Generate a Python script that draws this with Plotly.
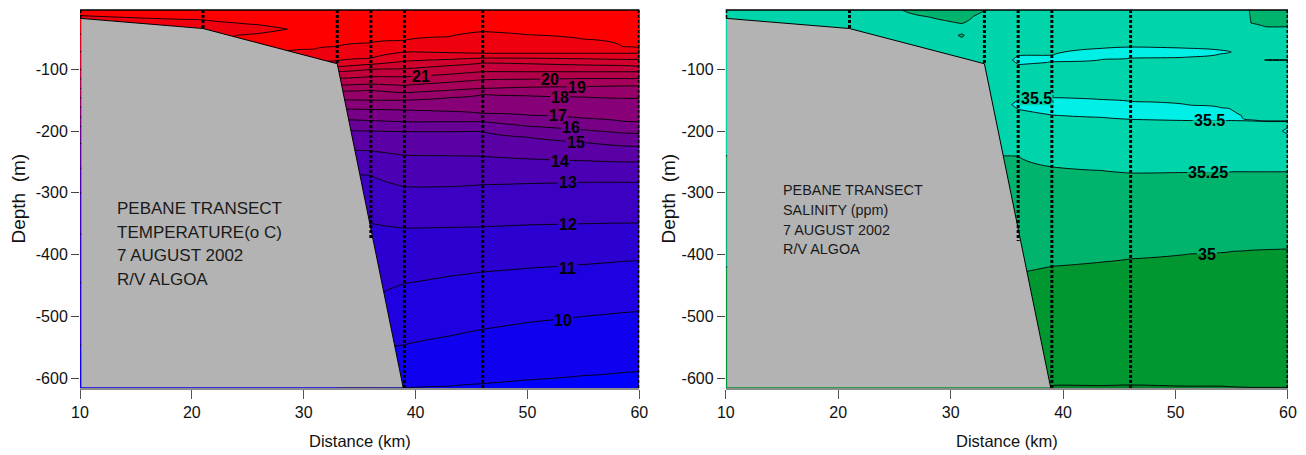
import numpy as np
import plotly.graph_objects as go

# ---------------- data ----------------
# seafloor along the transect (distance km, depth m)
bathy_x = [10, 21, 33, 38.9]
bathy_d = [-17.5, -34, -91, -616]

# CTD stations (dotted casts)
station_x = [10, 21, 33, 36, 39, 46, 60]
station_bottom_t = [-17.5, -34, -91, -373, -616, -616, -616]
station_bottom_s = [-17.5, -34, -91, -378, -616, -616, -616]

# Temperature (deg C): isotherm depths in open water, one column per distance
t_levels = [25, 24, 23, 22, 21, 20, 19, 18, 17, 16, 15, 14, 13, 12, 11, 10, 9]
t_cols = [33, 36, 39, 43, 46, 50, 55, 58.5, 60]
t_iso_depth = [
    [-63, -57, -53, -47, -39, -44, -51, -63, -67],
    [-86, -82, -72, -73, -74, -74, -74, -74, -74],
    [-96, -92, -87, -84, -82, -82, -83, -84, -84],
    [-104, -100, -99, -94, -90, -91, -93, -94, -95],
    [-115, -112, -112, -108, -104, -104, -104, -104, -104],
    [-126, -124, -126, -121, -117, -116, -115, -115, -115],
    [-136, -134, -138, -134, -131, -129, -128, -127, -127],
    [-150, -150, -150, -146, -141, -143, -145, -147, -147],
    [-165, -165, -166, -168, -171, -174, -179, -184, -185],
    [-182, -183, -185, -185, -185, -192, -198, -203, -204],
    [-200, -200, -201, -201, -201, -210, -218, -224, -225],
    [-230, -232, -239, -240, -241, -245, -248, -250, -250],
    [-272, -272, -290, -290, -287, -285, -283, -283, -283],
    [-345, -349, -357, -356, -355, -352, -350, -349, -349],
    [-470, -470, -447, -435, -428, -422, -416, -411, -410],
    [-555, -555, -546, -532, -521, -510, -500, -494, -492],
    [-616, -616, -616, -613, -609, -603, -596, -591, -589],
]
t_surface = 25.7
t_deep = 8.8

# Temperature profiles over the shelf (depth m, temperature)
t_shelf_x = [10, 21, 24, 26, 28.5, 31]
t_shelf_d = [
    [-4, -13, -20, -100, -200, -300, -400, -500, -616],
    [-4, -20, -34, -45, -100, -200, -300, -400, -500, -616],
    [-4, -25, -35, -45, -55, -90, -120, -200, -300, -400, -500, -616],
    [-4, -28, -35, -42, -57, -90, -120, -200, -300, -400, -500, -616],
    [-4, -35, -50, -60, -70, -80, -120, -200, -300, -400, -500, -616],
    [-4, -67, -82, -100, -130, -200, -300, -400, -500, -616],
]
t_shelf_T = [
    [25.6, 25.0, 24.8, 22.0, 15.5, 13.0, 11.5, 10.4, 9.4],
    [25.6, 25.0, 24.7, 24.6, 22.0, 15.5, 13.0, 11.5, 10.4, 9.4],
    [25.6, 25.0, 24.8, 25.0, 25.3, 25.0, 21.0, 15.5, 13.0, 11.5, 10.4, 9.4],
    [25.6, 25.0, 24.85, 25.0, 25.3, 25.0, 21.0, 15.5, 13.0, 11.5, 10.4, 9.4],
    [25.6, 24.995, 25.3, 25.2, 25.0, 24.9, 21.0, 15.5, 13.0, 11.5, 10.4, 9.4],
    [25.7, 25.0, 24.4, 23.5, 20.0, 15.5, 13.0, 11.5, 10.4, 9.4],
]

# Salinity profiles (depth m, salinity)
s_x = [10, 21, 25, 28, 31, 33, 36, 39, 43.5, 46, 51.3, 54, 55, 56.7, 58, 60]
s_d = [
    [-4, -100, -240, -420, -616],
    [-4, -100, -240, -420, -616],
    [-4, -20, -100, -240, -420, -616],
    [-4, -15, -30, -100, -240, -420, -616],
    [-4, -26, -38, -45, -55, -70, -100, -240, -420, -616],
    [-4, -15, -100, -200, -238, -420, -616],
    [-4, -60, -78, -85, -92, -110, -140, -157, -178, -241, -430, -616],
    [-4, -50, -77, -82, -88, -115, -146, -160, -174, -205, -258, -419, -620],
    [-4, -45, -66, -75, -84, -115, -149, -163, -178, -208, -264, -412, -612, -620],
    [-4, -45, -64, -73, -82, -115, -152, -166, -181, -210, -268, -407, -611, -620],
    [-4, -45, -66, -73, -80, -115, -158, -170, -183, -212, -267, -399, -613, -620],
    [-4, -50, -69, -72, -75, -100, -162, -172, -183, -212, -267, -397, -613, -620],
    [-4, -50, -72, -100, -166, -175, -183, -212, -266, -395, -614, -620],
    [-4, -25, -40, -72, -100, -170, -183, -190, -212, -266, -393, -615, -620],
    [-4, -31, -55, -80, -85, -90, -120, -178, -184, -190, -200, -215, -266, -392, -615, -620],
    [-4, -31, -55, -80, -85, -90, -120, -178, -184, -189, -195, -200, -206, -215, -266, -391, -615, -620],
]
s_S = [
    [35.35, 35.35, 35.25, 35.0, 34.85],
    [35.35, 35.35, 35.25, 35.0, 34.85],
    [35.28, 35.33, 35.35, 35.25, 35.0, 34.85],
    [35.15, 35.25, 35.32, 35.35, 35.25, 35.0, 34.85],
    [35.12, 35.25, 35.27, 35.24, 35.27, 35.33, 35.35, 35.25, 35.0, 34.85],
    [35.24, 35.32, 35.36, 35.38, 35.25, 35.0, 34.85],
    [35.35, 35.4, 35.5, 35.53, 35.5, 35.42, 35.46, 35.53, 35.45, 35.25, 35.0, 34.85],
    [35.35, 35.42, 35.5, 35.56, 35.5, 35.43, 35.5, 35.56, 35.5, 35.4, 35.25, 35.0, 34.74],
    [35.35, 35.42, 35.5, 35.57, 35.5, 35.43, 35.5, 35.57, 35.5, 35.4, 35.25, 35.0, 34.75, 34.74],
    [35.35, 35.42, 35.5, 35.57, 35.5, 35.43, 35.5, 35.57, 35.5, 35.4, 35.25, 35.0, 34.75, 34.74],
    [35.35, 35.42, 35.5, 35.56, 35.5, 35.43, 35.5, 35.56, 35.5, 35.4, 35.25, 35.0, 34.75, 34.74],
    [35.35, 35.43, 35.5, 35.52, 35.5, 35.43, 35.5, 35.55, 35.5, 35.4, 35.25, 35.0, 34.75, 34.745],
    [35.35, 35.43, 35.499, 35.43, 35.5, 35.53, 35.5, 35.4, 35.25, 35.0, 34.75, 34.745],
    [35.24, 35.25, 35.32, 35.44, 35.42, 35.45, 35.505, 35.45, 35.4, 35.25, 35.0, 34.75, 34.745],
    [35.15, 35.25, 35.35, 35.45, 35.505, 35.45, 35.42, 35.45, 35.505, 35.45, 35.44, 35.4, 35.25, 35.0, 34.75, 34.745],
    [35.15, 35.25, 35.35, 35.45, 35.505, 35.45, 35.42, 35.45, 35.505, 35.46, 35.5, 35.52, 35.5, 35.42, 35.25, 35.0, 34.75, 34.745],
]

# contour labels
t_label_text = ["21", "20", "19", "18", "17", "16", "15", "14", "13", "12", "11", "10"]
t_label_x = [40.5, 52.0, 54.4, 52.9, 52.7, 53.9, 54.3, 52.9, 53.6, 53.6, 53.6, 53.2]
t_label_d = [-112, -116, -129, -146, -174, -194, -218, -249, -284, -352, -422, -506]
s_label_text = ["35.5", "35.5", "35.25", "35"]
s_label_x = [37.6, 53.0, 52.9, 52.8]
s_label_d = [-148, -183, -267, -400]

t_block = ["PEBANE TRANSECT", "TEMPERATURE(o C)", "7 AUGUST 2002", "R/V ALGOA"]
s_block = ["PEBANE TRANSECT", "SALINITY (ppm)", "7 AUGUST 2002", "R/V ALGOA"]
x_ticks = [10, 20, 30, 40, 50, 60]
y_ticks = [-100, -200, -300, -400, -500, -600]
y_ticktext = ["-100", "-200", "-300", "-400", "-500", "-600"]

# ---------------- grids ----------------
depth_grid = np.arange(-616, -3, 1.0)


def profile(d, v):
    d = np.asarray(d, float)
    v = np.asarray(v, float)
    o = np.argsort(d)
    return np.interp(depth_grid, d[o], v[o])


t_columns = {}
for x, d, v in zip(t_shelf_x, t_shelf_d, t_shelf_T):
    t_columns[x] = profile(d, v)
iso = np.array(t_iso_depth, float)
for j, x in enumerate(t_cols):
    d = [-4] + list(iso[:, j]) + [-620]
    v = [t_surface] + t_levels + [t_deep]
    t_columns[x] = profile(d, v)
tx = sorted(t_columns)
tz = np.column_stack([t_columns[x] for x in tx])

sz = np.column_stack([profile(d, v) for d, v in zip(s_d, s_S)])

REG = "Liberation Sans, Arial, sans-serif"
S_COLORS = ["rgb(0,128,42)", "rgb(0,150,48)", "rgb(0,180,110)", "rgb(0,212,170)", "rgb(0,240,232)"]

fig = go.Figure()

fig.add_trace(go.Contour(
    x=tx, y=depth_grid, z=tz, autocontour=False,
    contours=dict(start=9, end=25, size=1, coloring="fill", showlines=True),
    line=dict(color="black", width=0.9),
    colorscale=[[0, "rgb(0,0,255)"], [1, "rgb(255,0,0)"]],
    showscale=False, hoverinfo="skip", xaxis="x", yaxis="y"))

fig.add_trace(go.Contour(
    x=s_x, y=depth_grid, z=sz, autocontour=False,
    contours=dict(start=34.75, end=35.5, size=0.25, coloring="fill", showlines=True),
    line=dict(color="black", width=0.9),
    colorscale=[[i / 4, c] for i, c in enumerate(S_COLORS)],
    showscale=False, hoverinfo="skip", xaxis="x2", yaxis="y2"))

for xa, ya, sb in (("x", "y", station_bottom_t), ("x2", "y2", station_bottom_s)):
    px = [bathy_x[0] + 0.12] + bathy_x[1:] + [bathy_x[0] + 0.12]
    py = bathy_d[:-1] + [bathy_d[-1] + 1.2, bathy_d[-1] + 1.2]
    fig.add_trace(go.Scatter(x=px, y=py, mode="lines", fill="toself",
                             fillcolor="rgb(179,179,179)", line=dict(width=0),
                             hoverinfo="skip", xaxis=xa, yaxis=ya))
    fig.add_trace(go.Scatter(x=bathy_x, y=bathy_d, mode="lines",
                             line=dict(color="black", width=1),
                             hoverinfo="skip", xaxis=xa, yaxis=ya))
    for sx, bot in zip(station_x, sb):
        fig.add_trace(go.Scatter(x=[sx, sx], y=[-4, bot], mode="lines",
                                 line=dict(color="black", width=3, dash="3px,2px"),
                                 hoverinfo="skip", xaxis=xa, yaxis=ya))

ann = []
shapes = []
LBL = 16


def t_color(f):
    return "rgb(%d,0,%d)" % (round(255 * f), round(255 * (1 - f)))


def label_box(text, x, d, xa, ya, upper, lower, px_per_km):
    w_px = sum(0.278 if ch == "." else 0.556 for ch in text) * LBL + 2
    half_w = w_px / 2 / px_per_km
    half_h = 0.4 * LBL / 0.618
    shapes.append(dict(type="rect", xref=xa, yref=ya, x0=x - half_w, x1=x + half_w,
                       y0=d, y1=d + half_h, fillcolor=upper, line=dict(width=0), layer="above"))
    shapes.append(dict(type="rect", xref=xa, yref=ya, x0=x - half_w, x1=x + half_w,
                       y0=d - half_h, y1=d, fillcolor=lower, line=dict(width=0), layer="above"))
    ann.append(dict(x=x, y=d, xref=xa, yref=ya, text=text, showarrow=False, borderpad=0,
                    font=dict(family=REG, size=LBL, color="black", weight="bold")))


for t, x, d in zip(t_label_text, t_label_x, t_label_d):
    L = float(t)
    label_box(t, x, d, "x", "y", t_color((L - 8) / 17), t_color((L - 9) / 17), 11.17)

s_up = [S_COLORS[3], S_COLORS[4], S_COLORS[3], S_COLORS[2]]
s_lo = [S_COLORS[3], S_COLORS[3], S_COLORS[2], S_COLORS[1]]
for t, x, d, u, lo in zip(s_label_text, s_label_x, s_label_d, s_up, s_lo):
    label_box(t, x, d, "x2", "y2", u, lo, 11.25)

for i, line in enumerate(t_block):
    ann.append(dict(x=13.15, y=[-326, -365, -402, -441][i], xref="x", yref="y", text=line,
                    showarrow=False, xanchor="left", yanchor="middle",
                    font=dict(family=REG, size=17, color="#1a1a1a")))
for i, line in enumerate(s_block):
    ann.append(dict(x=14.88, y=[-295, -328, -360, -391][i], xref="x2", yref="y2", text=line,
                    showarrow=False, xanchor="left", yanchor="middle",
                    font=dict(family=REG, size=14.4, color="#1a1a1a")))

for xp in (-0.0517, 0.4864):
    ann.append(dict(x=xp, y=0.5, xref="paper", yref="paper", text="Depth  (m)", textangle=-90,
                    showarrow=False, xanchor="center", yanchor="middle",
                    font=dict(family=REG, size=19, color="#111")))
for xp in (0.2315, 0.7674):
    ann.append(dict(x=xp, y=-0.1402, xref="paper", yref="paper", text="Distance (km)",
                    showarrow=False, xanchor="center", yanchor="middle",
                    font=dict(family=REG, size=16.5, color="#111")))

for xa, ya in (("x", "y"), ("x2", "y2")):
    shapes.append(dict(type="line", xref=xa + " domain", yref=ya + " domain",
                       x0=0, x1=1, y0=1, y1=1, line=dict(color="black", width=1.5)))

axis_common = dict(showgrid=False, zeroline=False, ticks="outside",
                   tickfont=dict(family=REG, size=16, color="#111"))
fig.update_layout(
    template="none", width=1306, height=455,
    margin=dict(l=80, r=18, t=10, b=67),
    paper_bgcolor="white", plot_bgcolor="white", showlegend=False,
    annotations=ann, shapes=shapes,
    xaxis=dict(domain=[0, 0.463], range=[10, 60], tickvals=x_ticks, anchor="y",
               showline=True, linecolor="rgb(140,140,140)", linewidth=2,
               ticklen=9, tickcolor="#555", **axis_common),
    xaxis2=dict(domain=[0.5346, 1.0], range=[10, 60], tickvals=x_ticks, anchor="y2",
                showline=True, linecolor="rgb(140,140,140)", linewidth=2,
                ticklen=9, tickcolor="#555", **axis_common),
    yaxis=dict(domain=[0, 1], range=[-616, -4], tickvals=y_ticks, ticktext=y_ticktext,
               anchor="x", showline=False, ticklen=8, tickcolor="#444", **axis_common),
    yaxis2=dict(domain=[0, 1], range=[-616, -4], tickvals=y_ticks, ticktext=y_ticktext,
                anchor="x2", showline=False, ticklen=8, tickcolor="#444", **axis_common),
)

fig.write_html("out.html", config={"displayModeBar": False},
               post_script="document.body.style.margin='0px';")
